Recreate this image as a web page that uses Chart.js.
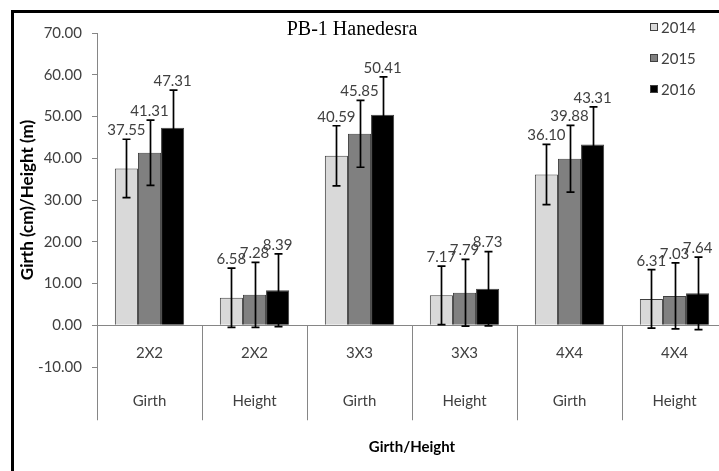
<!DOCTYPE html>
<html><head><meta charset="utf-8">
<script src="https://cdn.jsdelivr.net/npm/chart.js@4.4.0/dist/chart.umd.min.js"></script>
<style>
html,body{margin:0;padding:0;background:#fff;overflow:hidden;width:719px;height:471px}
#wrap{position:absolute;left:0;top:0;width:735px;height:471px}
</style>
</head><body>
<div id="wrap"><canvas id="c" width="735" height="471"></canvas></div>
<script>
// ---- data ----
const categories = [['2X2','Girth'],['2X2','Height'],['3X3','Girth'],['3X3','Height'],['4X4','Girth'],['4X4','Height']];
const seriesNames = ['2014','2015','2016'];
const values2014 = [37.55, 6.58, 40.59, 7.17, 36.10, 6.31];
const values2015 = [41.31, 7.28, 45.85, 7.79, 39.88, 7.03];
const values2016 = [47.31, 8.39, 50.41, 8.73, 43.31, 7.64];
const errors2014 = [7.0, 7.1, 7.2, 7.0, 7.2, 7.0];
const errors2015 = [7.8, 7.8, 8.0, 8.0, 8.0, 7.9];
const errors2016 = [9.0, 8.7, 9.1, 8.9, 9.0, 8.7];
const yTickValues = [-10, 0, 10, 20, 30, 40, 50, 60, 70];
const chartTitle = 'PB-1 Hanedesra';
const xAxisTitle = 'Girth/Height';
const yAxisTitle = 'Girth (cm)/Height (m)';

const seriesValues = [values2014, values2015, values2016];
const seriesErrors = [errors2014, errors2015, errors2016];
const seriesColors = ['#d9d9d9', '#808080', '#000000'];
const textColor = '#404040';
const axisColor = '#868686';

const framePlugin = {
  id: 'frame',
  afterDraw(chart) {
    const ctx = chart.ctx;
    ctx.save();
    ctx.fillStyle = '#000';
    ctx.fillRect(11, 10, chart.width, 3);
    ctx.fillRect(11, 10, 3, chart.height);
    ctx.restore();
  }
};

const dividerPlugin = {
  id: 'dividers',
  afterDraw(chart) {
    const xs = chart.scales.x, ys = chart.scales.y;
    const ctx = chart.ctx;
    const y0 = ys.getPixelForValue(0);
    const yEnd = y0 + 95;
    const n = categories.length;
    ctx.save();
    ctx.strokeStyle = axisColor;
    ctx.lineWidth = 1;
    ctx.beginPath();
    for (let i = 0; i <= n; i++) {
      const x = Math.round(xs.left + i * xs.width / n) + 0.5;
      const yStart = i === 0 ? chart.chartArea.bottom : y0;
      ctx.moveTo(x, yStart);
      ctx.lineTo(x, yEnd);
    }
    ctx.stroke();
    ctx.restore();
  }
};

const errorBarPlugin = {
  id: 'errorbars',
  afterDatasetsDraw(chart) {
    const ys = chart.scales.y;
    const ctx = chart.ctx;
    ctx.save();
    ctx.strokeStyle = '#000';
    ctx.lineWidth = 1.7;
    chart.data.datasets.forEach((ds, di) => {
      const meta = chart.getDatasetMeta(di);
      meta.data.forEach((bar, i) => {
        const v = ds.data[i], e = seriesErrors[di][i];
        const yt = ys.getPixelForValue(v + e), yb = ys.getPixelForValue(v - e);
        const x = Math.round(bar.x) + 0.5;
        ctx.beginPath();
        ctx.moveTo(x, yt); ctx.lineTo(x, yb);
        ctx.moveTo(x - 4, yt); ctx.lineTo(x + 4, yt);
        ctx.moveTo(x - 4, yb); ctx.lineTo(x + 4, yb);
        ctx.stroke();
      });
    });
    ctx.restore();
  }
};

const labelPlugin = {
  id: 'datalabels',
  afterDraw(chart) {
    const ys = chart.scales.y;
    const ctx = chart.ctx;
    ctx.save();
    ctx.font = '15px Lato';
    ctx.fillStyle = textColor;
    ctx.textAlign = 'center';
    ctx.textBaseline = 'middle';
    chart.data.datasets.forEach((ds, di) => {
      const meta = chart.getDatasetMeta(di);
      meta.data.forEach((bar, i) => {
        const v = ds.data[i], e = seriesErrors[di][i];
        const yt = ys.getPixelForValue(v + e);
        ctx.fillText(v.toFixed(2), bar.x, yt - 9);
      });
    });
    ctx.restore();
  }
};

const titleLegendPlugin = {
  id: 'titleLegend',
  afterDraw(chart) {
    const ctx = chart.ctx;
    ctx.save();
    ctx.fillStyle = '#000';
    ctx.font = '20px "Liberation Serif"';
    ctx.textAlign = 'center';
    ctx.textBaseline = 'middle';
    ctx.fillText(chartTitle, 352, 30);
    ctx.font = '15px Lato';
    ctx.textAlign = 'left';
    chart.data.datasets.forEach((ds, di) => {
      const cy = 27 + di * 31;
      ctx.fillStyle = ds.backgroundColor;
      ctx.fillRect(650, cy - 4, 8, 8);
      ctx.strokeStyle = '#404040';
      ctx.lineWidth = 1;
      ctx.strokeRect(650.5, cy - 3.5, 7, 7);
      ctx.fillStyle = textColor;
      ctx.fillText(ds.label, 661, cy + 1);
    });
    ctx.restore();
  }
};

new Chart(document.getElementById('c'), {
  type: 'bar',
  data: {
    labels: categories,
    datasets: seriesNames.map((name, i) => ({
      label: name,
      data: seriesValues[i],
      backgroundColor: seriesColors[i],
      borderColor: '#404040',
      borderWidth: 1,
      categoryPercentage: 0.66,
      barPercentage: 1
    }))
  },
  options: {
    responsive: false,
    animation: false,
    devicePixelRatio: 1,
    layout: { padding: { left: 14, top: 33, right: 8, bottom: 104 } },
    plugins: { legend: { display: false }, title: { display: false }, tooltip: { enabled: false } },
    scales: {
      x: {
        position: { y: 0 },
        grid: { display: false, drawTicks: false },
        border: { display: true, color: axisColor, width: 1 },
        ticks: { color: textColor, padding: 4, maxRotation: 0, autoSkip: false,
                 font: { family: 'Lato', size: 15, lineHeight: '48px' } },
        title: { display: true, text: xAxisTitle, color: '#000',
                 font: { family: 'Lato', size: 15, weight: 'bold' }, padding: { top: 9, bottom: 0 } }
      },
      y: {
        min: -10, max: 70,
        afterBuildTicks: s => { s.ticks = yTickValues.map(v => ({ value: v })); },
        afterFit: s => { s.width = 83; },
        grid: { drawOnChartArea: false, drawTicks: true, tickLength: 5, color: axisColor },
        border: { display: true, color: axisColor, width: 1 },
        ticks: { color: textColor, padding: 10, callback: v => Number(v).toFixed(2),
                 font: { family: 'Lato', size: 15 } },
        title: { display: true, text: yAxisTitle, color: '#000',
                 font: { family: 'Lato', size: 17, weight: 'bold' }, padding: { top: 3, bottom: 0 } }
      }
    }
  },
  plugins: [dividerPlugin, errorBarPlugin, labelPlugin, titleLegendPlugin, framePlugin]
});
</script>
</body></html>
